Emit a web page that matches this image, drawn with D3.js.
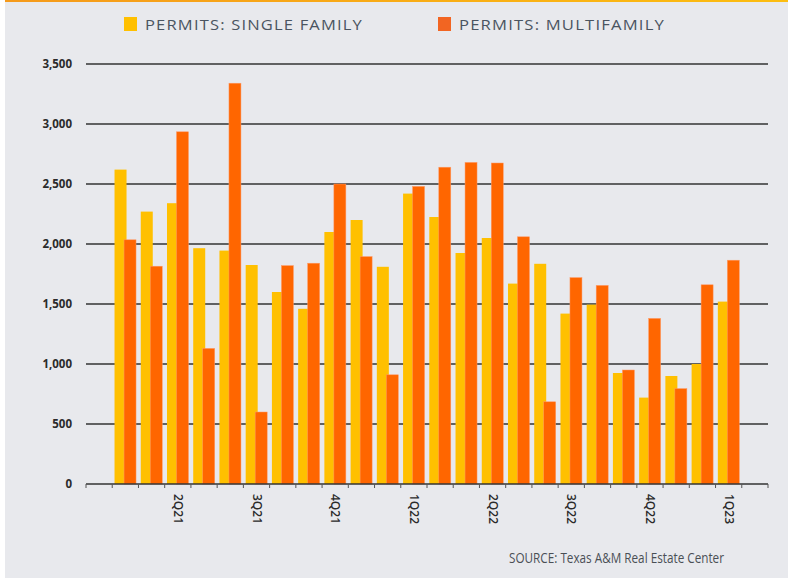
<!DOCTYPE html>
<html>
<head>
<meta charset="utf-8">
<script src="https://cdn.jsdelivr.net/npm/d3@7"></script>
<style>
  body { margin: 0; background: #fff; }
  svg { display: block; }
</style>
</head>
<body>
<div id="chart"></div>
<script>
// data
var months = ["Jan21","Feb21","Mar21","Apr21","May21","Jun21","Jul21","Aug21","Sep21","Oct21","Nov21","Dec21",
              "Jan22","Feb22","Mar22","Apr22","May22","Jun22","Jul22","Aug22","Sep22","Oct22","Nov22","Dec22"];
var quarterLabels = ["", "", "2Q21", "", "", "3Q21", "", "", "4Q21", "", "", "1Q22",
                     "", "", "2Q22", "", "", "3Q22", "", "", "4Q22", "", "", "1Q23"];
var singleFamily = [2620, 2270, 2340, 1965, 1945, 1825, 1600, 1460, 2100, 2200, 1810, 2420,
                    2225, 1925, 2050, 1670, 1835, 1420, 1495, 925, 720, 900, 1000, 1520];
var multiFamily = [2035, 1815, 2935, 1130, 3340, 600, 1820, 1840, 2500, 1895, 910, 2480,
                   2640, 2680, 2675, 2060, 685, 1720, 1655, 950, 1380, 795, 1660, 1865];
var yTicks = [0, 500, 1000, 1500, 2000, 2500, 3000, 3500];

var svgWidth = 788;
var svgHeight = 579;

var svg = d3.select("#chart")
  .append("svg")
  .attr("width", svgWidth)
  .attr("height", svgHeight);

// background panel
svg.append("rect")
  .attr("x", 5).attr("y", 0)
  .attr("width", svgWidth - 5).attr("height", svgHeight - 1)
  .attr("fill", "#e8e9ed");

// orange stripe on top
var grad = svg.append("defs").append("linearGradient").attr("id", "topbar");
grad.append("stop").attr("offset", "0%").attr("stop-color", "#f59a1b");
grad.append("stop").attr("offset", "100%").attr("stop-color", "#fcbd10");
svg.append("rect")
  .attr("x", 5).attr("y", 0)
  .attr("width", svgWidth - 5).attr("height", 2)
  .attr("fill", "url(#topbar)");

// plot area
var plotLeft = 86, plotRight = 768, plotTop = 64, plotBottom = 484;
var step = (plotRight - plotLeft) / (months.length + 2);

var x = d3.scaleBand()
  .domain(months)
  .range([plotLeft + step, plotRight - step]);

var y = d3.scaleLinear()
  .domain([0, 3500])
  .range([plotBottom, plotTop]);

// gridlines
svg.append("g")
  .selectAll("line")
  .data(yTicks.slice(1))
  .enter()
  .append("line")
  .attr("x1", plotLeft).attr("x2", plotRight)
  .attr("y1", d => y(d)).attr("y2", d => y(d))
  .attr("stroke", "#333")
  .attr("stroke-width", 1.3);

// y labels
svg.append("g")
  .selectAll("text")
  .data(yTicks)
  .enter()
  .append("text")
  .attr("x", 72)
  .attr("y", d => y(d) + 4)
  .attr("text-anchor", "end")
  .attr("font-family", "Open Sans, sans-serif")
  .attr("font-weight", "bold")
  .attr("font-size", "11.5px")
  .attr("fill", "#2b2b2b")
  .text(d => d3.format(",")(d));

// bars
var barW = 12;
var groups = svg.append("g")
  .selectAll("g")
  .data(months)
  .enter()
  .append("g");

groups.append("rect")
  .attr("x", (d, i) => x(d) + 2.3)
  .attr("y", (d, i) => y(singleFamily[i]))
  .attr("width", barW)
  .attr("height", (d, i) => plotBottom - y(singleFamily[i]))
  .attr("fill", "#ffc000");

groups.append("rect")
  .attr("x", (d, i) => x(d) + 11.8)
  .attr("y", (d, i) => y(multiFamily[i]))
  .attr("width", barW)
  .attr("height", (d, i) => plotBottom - y(multiFamily[i]))
  .attr("fill", "#ff6600")
  .attr("stroke", "#ff9966")
  .attr("stroke-width", 0.5);

// x axis line and ticks
svg.append("line")
  .attr("x1", plotLeft).attr("x2", plotRight)
  .attr("y1", plotBottom).attr("y2", plotBottom)
  .attr("stroke", "#333").attr("stroke-width", 1.3);

svg.append("g")
  .selectAll("line")
  .data(d3.range(months.length + 3))
  .enter()
  .append("line")
  .attr("x1", d => plotLeft + d * step).attr("x2", d => plotLeft + d * step)
  .attr("y1", plotBottom).attr("y2", plotBottom + 4)
  .attr("stroke", "#555").attr("stroke-width", 1);

// quarter labels, rotated
svg.append("g")
  .selectAll("text")
  .data(months)
  .enter()
  .append("text")
  .attr("transform", d => `translate(${x(d) + x.bandwidth() / 2 - 4}, 494) rotate(90)`)
  .attr("font-family", "Open Sans, sans-serif")
  .attr("font-weight", "600")
  .attr("font-size", "12px")
  .attr("fill", "#2b2b2b")
  .text((d, i) => quarterLabels[i]);

// legend
var legend = [
  { name: "PERMITS: SINGLE FAMILY", color: "#ffc000", x: 124, w: 218 },
  { name: "PERMITS: MULTIFAMILY", color: "#f26522", x: 438, w: 206 }
];
legend.forEach(function(l) {
  svg.append("rect")
    .attr("x", l.x).attr("y", 17)
    .attr("width", 13).attr("height", 14)
    .attr("fill", l.color);
  svg.append("text")
    .attr("x", l.x + 21).attr("y", 30)
    .attr("font-family", "Open Sans, sans-serif")
    .attr("font-weight", "normal")
    .attr("font-size", "14px")
    .attr("letter-spacing", "1px")
    .attr("fill", "#4a5460")
    .attr("textLength", l.w)
    .attr("lengthAdjust", "spacingAndGlyphs")
    .text(l.name);
});

// source
svg.append("text")
  .attr("x", 509).attr("y", 563)
  .attr("font-family", "Open Sans, sans-serif")
  .attr("font-size", "14px")
  .attr("fill", "#4a4f55")
  .attr("textLength", 215)
  .attr("lengthAdjust", "spacingAndGlyphs")
  .text("SOURCE: Texas A&M Real Estate Center");
</script>
</body>
</html>
